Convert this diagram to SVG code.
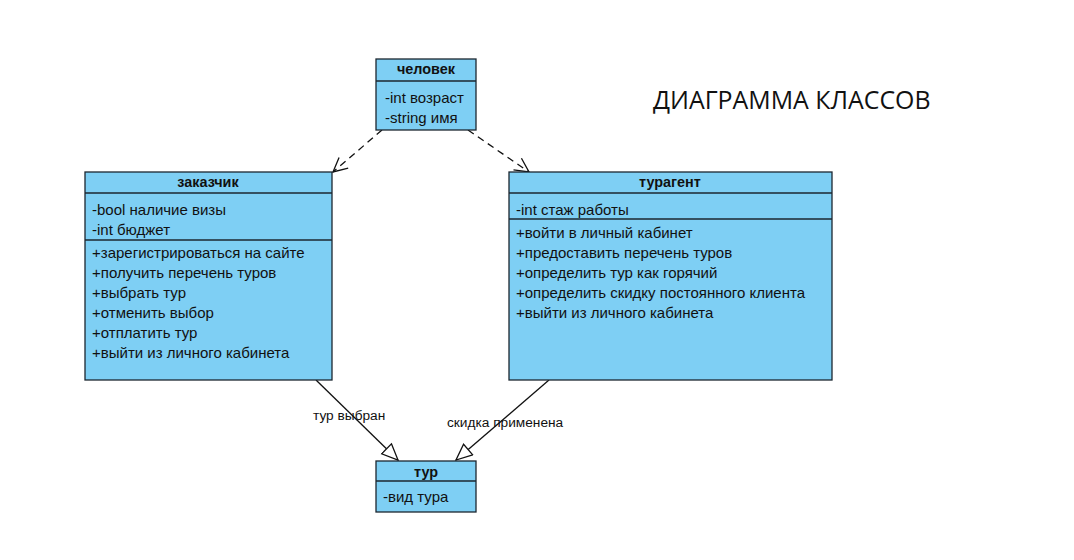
<svg xmlns="http://www.w3.org/2000/svg" width="1074" height="560" viewBox="0 0 1074 560">
<style>
.box{fill:#7ECFF4;stroke:#1c2730;stroke-width:1.3}
.sep{stroke:#1c2730;stroke-width:1.3}
.t{font-family:"Liberation Sans",Arial,sans-serif;font-size:15px;fill:#111}
.h{font-family:"Liberation Sans",Arial,sans-serif;font-size:14.4px;font-weight:bold;fill:#111;text-anchor:middle}
.lbl{font-family:"Liberation Sans",Arial,sans-serif;font-size:13.7px;fill:#111}
.dash{fill:none;stroke:#111;stroke-width:1.3;stroke-dasharray:7,5}
.solid{fill:none;stroke:#111;stroke-width:1.3}
.title{font-family:"Open Sans",sans-serif;font-size:24.9px;fill:#111}
</style>
<defs>
<marker id="open" markerWidth="18" markerHeight="18" refX="15" refY="8" orient="auto" markerUnits="userSpaceOnUse">
<path d="M1,1 L15,8 L1,15" fill="none" stroke="#111" stroke-width="1.3"/>
</marker>
<marker id="tri" markerWidth="20" markerHeight="20" refX="17" refY="8" orient="auto" markerUnits="userSpaceOnUse">
<path d="M1,1 L17,8 L1,15 Z" fill="#fff" stroke="#111" stroke-width="1.3"/>
</marker>
</defs>
<rect width="1074" height="560" fill="#fff"/>
<text class="title" x="653" y="109">ДИАГРАММА КЛАССОВ</text>
<g id="connectors">
<line class="dash" x1="382" y1="130" x2="333" y2="172" marker-end="url(#open)"/>
<line class="dash" x1="468" y1="130" x2="529" y2="172" marker-end="url(#open)"/>
<line class="solid" x1="316" y1="380" x2="398" y2="460" marker-end="url(#tri)"/>
<line class="solid" x1="549" y1="380" x2="456" y2="460" marker-end="url(#tri)"/>
<text class="lbl" x="313" y="420">тур выбран</text>
<text class="lbl" x="447" y="427">скидка применена</text>
</g>
<g id="chelovek">
<rect class="box" x="376" y="59" width="100" height="71"/>
<line class="sep" x1="376" y1="81" x2="476" y2="81"/>
<text class="h" x="426" y="74">человек</text>
<text class="t" x="385" y="103">-int возраст</text>
<text class="t" x="385" y="123">-string имя</text>
</g>
<g id="zakazchik">
<rect class="box" x="85" y="172" width="247" height="208"/>
<line class="sep" x1="85" y1="193" x2="332" y2="193"/>
<line class="sep" x1="85" y1="240" x2="332" y2="240"/>
<text class="h" x="208" y="187">заказчик</text>
<text class="t" x="92" y="215">-bool наличие визы</text>
<text class="t" x="92" y="235">-int бюджет</text>
<text class="t" x="92" y="258">+зарегистрироваться на сайте</text>
<text class="t" x="92" y="278">+получить перечень туров</text>
<text class="t" x="92" y="298">+выбрать тур</text>
<text class="t" x="92" y="318">+отменить выбор</text>
<text class="t" x="92" y="338">+отплатить тур</text>
<text class="t" x="92" y="358">+выйти из личного кабинета</text>
</g>
<g id="turagent">
<rect class="box" x="509" y="172" width="323" height="208"/>
<line class="sep" x1="509" y1="193" x2="832" y2="193"/>
<line class="sep" x1="509" y1="219" x2="832" y2="219"/>
<text class="h" x="670" y="187">турагент</text>
<text class="t" x="516" y="215">-int стаж работы</text>
<text class="t" x="516" y="238">+войти в личный кабинет</text>
<text class="t" x="516" y="258">+предоставить перечень туров</text>
<text class="t" x="516" y="278">+определить тур как горячий</text>
<text class="t" x="516" y="298">+определить скидку постоянного клиента</text>
<text class="t" x="516" y="318">+выйти из личного кабинета</text>
</g>
<g id="tur">
<rect class="box" x="376" y="461" width="100" height="51"/>
<line class="sep" x1="376" y1="481" x2="476" y2="481"/>
<text class="h" x="426" y="477">тур</text>
<text class="t" x="383" y="502">-вид тура</text>
</g>
</svg>
